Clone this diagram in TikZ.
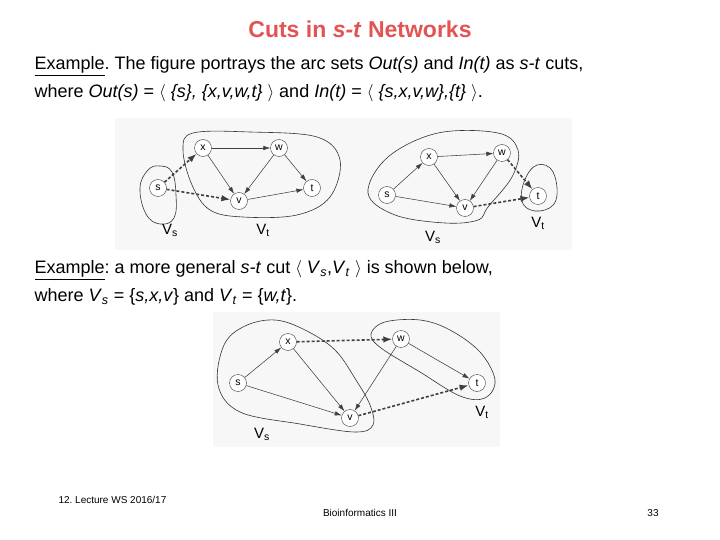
\documentclass[tikz,border=0pt]{standalone}
\usepackage{fontspec}
\setmainfont{Liberation Sans}
\usetikzlibrary{arrows.meta, positioning}
\frenchspacing

\definecolor{titlered}{RGB}{226,84,84}

\begin{document}
\begin{tikzpicture}[
    x=1pt, y=-1pt,
    % Define styles
    vertex/.style={
        draw=black!75,
        circle,
        fill=white,
        minimum size=17pt,
        inner sep=0pt,
        font=\fontsize{10.5}{11}\selectfont
    },
    arc/.style={
        -{Latex[length=7pt,width=4.5pt]},
        black!75,
        line width=0.55pt
    },
    cutarc/.style={
        -{Latex[length=9pt,width=6.5pt]},
        black!75,
        line width=1.6pt,
        dash pattern=on 3pt off 2pt
    },
    blob/.style={
        black!80,
        line width=0.6pt
    },
    setlabel/.style={
        font=\fontsize{15}{15}\selectfont
    },
    scan/.style={
        fill=black!3,
        draw=none
    },
    body/.style={
        anchor=west,
        font=\fontsize{18}{20}\selectfont
    },
    footer/.style={
        font=\fontsize{10}{11}\selectfont
    }
]

\useasboundingbox (0,0) rectangle (720,540);

% ============================================================
% Title and text
% ============================================================
\node[font=\fontsize{23}{26}\selectfont\bfseries, text=titlered] (title) at (360,29)
    {Cuts in \textit{s-t} Networks};

\node[body] (line1) at (31,66)
    {\underline{Example}. The figure portrays the arc sets \textit{Out(s)} and \textit{In(t)} as \textit{s-t} cuts,};
\node[body] (line2) at (31,93)
    {where \textit{Out(s)} = $\langle$ \textit{\{s\}, \{x,v,w,t\}} $\rangle$ and \textit{In(t)} = $\langle$ \textit{\{s,x,v,w\},\{t\}} $\rangle$.};

\node[body] (line3) at (31,270)
    {\underline{Example}: a more general \textit{s-t} cut $\langle$ \textit{V}\textsubscript{\textit{s}},\textit{V}\textsubscript{\textit{t}} $\rangle$ is shown below,};
\node[body] (line4) at (31,297)
    {where \textit{V}\textsubscript{\textit{s}} = \{\textit{s,x,v}\} and \textit{V}\textsubscript{\textit{t}} = \{\textit{w,t}\}.};

% ============================================================
% Scanned figure backgrounds
% ============================================================
\fill[scan] (115,118) rectangle (572,250);
\fill[scan] (213,312) rectangle (500,447);

% ============================================================
% Figure 1: Out(s)
% ============================================================
\draw[blob] plot[smooth cycle, tension=0.7] coordinates
    {(140,188) (148,170) (160,166) (172,172) (176,195) (174,218) (160,224) (146,214)};
\draw[blob] plot[smooth cycle, tension=0.6] coordinates
    {(183,150) (193,133) (250,132) (317,137) (340,160) (330,197) (297,215) (243,217) (210,210) (192,185)};

\node[vertex] (x1) at (203,148) {x};
\node[vertex] (w1) at (279,148) {w};
\node[vertex] (s1) at (158,188) {s};
\node[vertex] (v1) at (239,201) {v};
\node[vertex] (t1) at (312,188) {t};

\draw[arc] (x1) -- (w1);
\draw[arc] (x1) -- (v1);
\draw[arc] (w1) -- (v1);
\draw[arc] (w1) -- (t1);
\draw[arc] (v1) -- (t1);
\draw[cutarc] (s1) -- (x1);
\draw[cutarc] (s1) -- (v1);

\node[setlabel] (vs1) at (170,230) {V\textsubscript{s}};
\node[setlabel] (vt1) at (263,230) {V\textsubscript{t}};

% ============================================================
% Figure 2: In(t)
% ============================================================
\draw[blob] plot[smooth cycle, tension=0.6] coordinates
    {(368,193) (388,157) (438,133) (498,133) (518,150) (512,177) (488,207) (478,220) (445,223) (395,215)};
\draw[blob] plot[smooth cycle, tension=0.7] coordinates
    {(537,165) (553,172) (556,200) (540,211) (523,204) (524,182)};

\node[vertex] (x2) at (429,157) {x};
\node[vertex] (w2) at (502,153) {w};
\node[vertex] (s2) at (387,195) {s};
\node[vertex] (v2) at (465,208) {v};
\node[vertex] (t2) at (538,196) {t};

\draw[arc] (s2) -- (x2);
\draw[arc] (s2) -- (v2);
\draw[arc] (x2) -- (w2);
\draw[arc] (x2) -- (v2);
\draw[arc] (w2) -- (v2);
\draw[cutarc] (w2) -- (t2);
\draw[cutarc] (v2) -- (t2);

\node[setlabel] (vs2) at (433,237) {V\textsubscript{s}};
\node[setlabel] (vt2) at (538,223) {V\textsubscript{t}};

% ============================================================
% Figure 3: general cut <Vs,Vt>
% ============================================================
\draw[blob] plot[smooth cycle, tension=0.6] coordinates
    {(218,385) (224,345) (245,326) (275,320) (305,330) (335,350) (356,380) (370,405) (373,425) (355,432) (300,424) (240,412)};
\draw[blob] plot[smooth cycle, tension=0.6] coordinates
    {(371,334) (385,322) (420,320) (450,330) (480,352) (495,380) (485,398) (460,396) (420,372) (381,348)};

\node[vertex] (x3) at (288,342) {x};
\node[vertex] (w3) at (401,339) {w};
\node[vertex] (s3) at (238,383) {s};
\node[vertex] (v3) at (350,418) {v};
\node[vertex] (t3) at (477,383) {t};

\draw[arc] (s3) -- (x3);
\draw[arc] (s3) -- (v3);
\draw[arc] (x3) -- (v3);
\draw[arc] (w3) -- (v3);
\draw[arc] (w3) -- (t3);
\draw[cutarc] (x3) -- (w3);
\draw[cutarc] (v3) -- (t3);

\node[setlabel] (vs3) at (262,434) {V\textsubscript{s}};
\node[setlabel] (vt3) at (482,412) {V\textsubscript{t}};

% ============================================================
% Footer
% ============================================================
\node[footer, anchor=west] (lecture) at (55,500) {12. Lecture WS 2016/17};
\node[footer] (course) at (360,513) {Bioinformatics III};
\node[footer] (page) at (653,513) {33};

\end{tikzpicture}
\end{document}
